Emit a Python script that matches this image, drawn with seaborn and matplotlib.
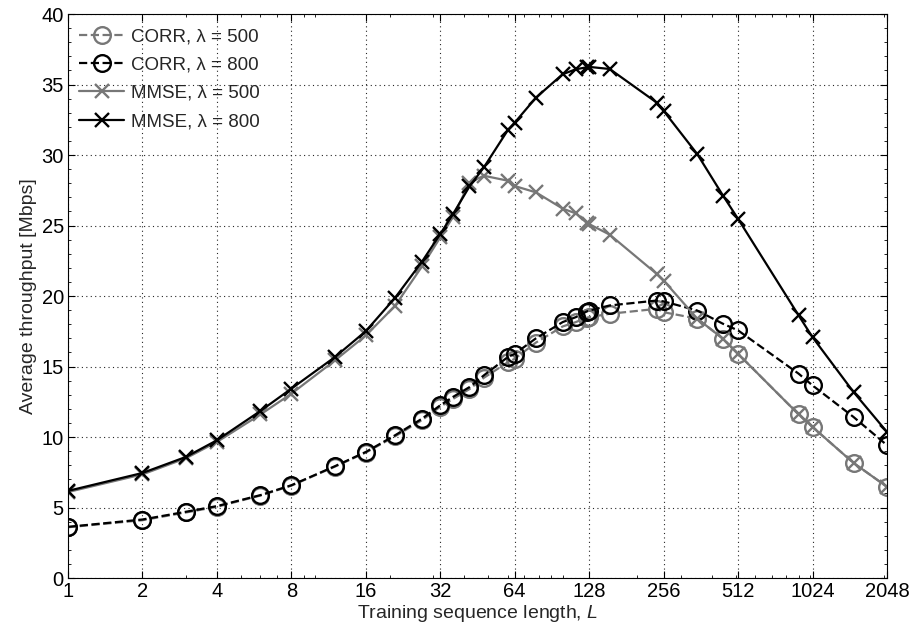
import numpy as np
import pandas as pd
import matplotlib
matplotlib.use("Agg")
import matplotlib.pyplot as plt
import seaborn as sns
from matplotlib.ticker import FixedLocator, NullFormatter, MultipleLocator

# ---- data ----
L_values = [1, 2, 3, 4, 6, 8, 12, 16, 21, 27, 32, 36, 42, 48, 60, 64, 78, 100,
            113, 125, 128, 155, 240, 256, 350, 445, 512, 900, 1024, 1500, 2048]

corr_500 = [3.60, 4.10, 4.65, 5.05, 5.85, 6.55, 7.90, 8.90, 10.05, 11.20, 12.15,
            12.70, 13.40, 14.20, 15.30, 15.55, 16.70, 17.84, 18.15, 18.46, 18.50,
            18.74, 19.09, 18.85, 18.40, 16.97, 15.90, 11.60, 10.71, 8.16, 6.47]

corr_800 = [3.63, 4.15, 4.70, 5.10, 5.88, 6.58, 7.93, 8.94, 10.12, 11.30, 12.25,
            12.84, 13.54, 14.37, 15.67, 15.90, 17.00, 18.15, 18.50, 18.90, 18.97,
            19.33, 19.68, 19.62, 18.97, 18.03, 17.56, 14.49, 13.66, 11.42, 9.42]

mmse_500 = [6.10, 7.35, 8.50, 9.65, 11.60, 13.07, 15.43, 17.20, 19.30, 22.10, 24.16,
            25.60, 28.05, 28.53, 28.18, 27.80, 27.35, 26.20, 25.86, 25.20, 25.10,
            24.35, 21.57, 21.10, 18.40, 16.97, 15.90, 11.60, 10.71, 8.16, 6.47]

mmse_800 = [6.18, 7.45, 8.59, 9.77, 11.85, 13.43, 15.67, 17.51, 19.87, 22.44, 24.40,
            25.80, 27.77, 29.12, 31.76, 32.30, 34.07, 35.73, 36.08, 36.22, 36.25,
            36.10, 33.72, 33.13, 30.07, 27.12, 25.47, 18.62, 17.08, 13.19, 10.36]

series_labels = ["CORR, λ = 500", "CORR, λ = 800",
                 "MMSE, λ = 500", "MMSE, λ = 800"]
x_ticks = [1, 2, 4, 8, 16, 32, 64, 128, 256, 512, 1024, 2048]
y_ticks = [0, 5, 10, 15, 20, 25, 30, 35, 40]

# ---- style ----
sns.set_style("ticks")
plt.rcParams["font.family"] = ["Liberation Sans", "DejaVu Sans"]
plt.rcParams["mathtext.fontset"] = "custom"
plt.rcParams["mathtext.rm"] = "Liberation Sans"
plt.rcParams["mathtext.it"] = "Liberation Sans:italic"
plt.rcParams["mathtext.cal"] = "Liberation Sans"

fig = plt.figure(figsize=(9.13, 6.34), dpi=100)
ax = fig.add_axes([0.0745, 0.0883, 0.897, 0.8896])

gray = "#777777"
black = "#000000"

specs = [
    (corr_500, gray, "--", "o"),
    (corr_800, black, "--", "o"),
    (mmse_500, gray, "-", "x"),
    (mmse_800, black, "-", "x"),
]

for (vals, col, ls, mk), lab in zip(specs, series_labels):
    df = pd.DataFrame({"L": L_values, "thr": vals})
    if mk == "o":
        kw = dict(marker="o", markersize=12, markerfacecolor="none",
                  markeredgecolor=col, markeredgewidth=1.7)
    else:
        kw = dict(marker="x", markersize=10, markeredgecolor=col,
                  markeredgewidth=1.7)
    sns.lineplot(data=df, x="L", y="thr", ax=ax, color=col, linestyle=ls,
                 linewidth=1.6, label=lab, sort=False, estimator=None, **kw)

ax.set_xscale("log", base=2)
ax.set_xlim(1, 2048)
ax.set_ylim(0, 40)
ax.xaxis.set_major_locator(FixedLocator(x_ticks))
ax.set_xticklabels([str(t) for t in x_ticks])
minor_x = [m * 10 ** k for k in range(0, 4) for m in range(1, 10) if 1 <= m * 10 ** k <= 2048]
minor_x = [v for v in minor_x if v not in x_ticks]
ax.xaxis.set_minor_locator(FixedLocator(minor_x))
ax.xaxis.set_minor_formatter(NullFormatter())
ax.set_yticks(y_ticks)
ax.yaxis.set_minor_locator(MultipleLocator(1))

ax.grid(True, which="major", linestyle=(0, (1, 3)), color="0.15", linewidth=0.8)
ax.tick_params(which="both", direction="in", top=True, right=True,
               labelsize=14.5, colors="black")
ax.tick_params(which="major", length=5, width=0.8, pad=3)
ax.tick_params(which="minor", length=2.5, width=0.6)
for s in ax.spines.values():
    s.set_visible(True)
    s.set_color("black")
    s.set_linewidth(0.8)

ax.set_xlabel(r"Training sequence length, $\mathit{L}$", fontsize=14, labelpad=1)
ax.set_ylabel("Average throughput [Mbps]", fontsize=14, labelpad=3)

leg = ax.legend(loc="upper left", frameon=False, fontsize=13.5, handlelength=2.4,
                handletextpad=0.35, labelspacing=0.6, borderaxespad=0.3,
                borderpad=0.3, bbox_to_anchor=(0.0, 0.995))

fig.savefig("out.png", dpi=100)
